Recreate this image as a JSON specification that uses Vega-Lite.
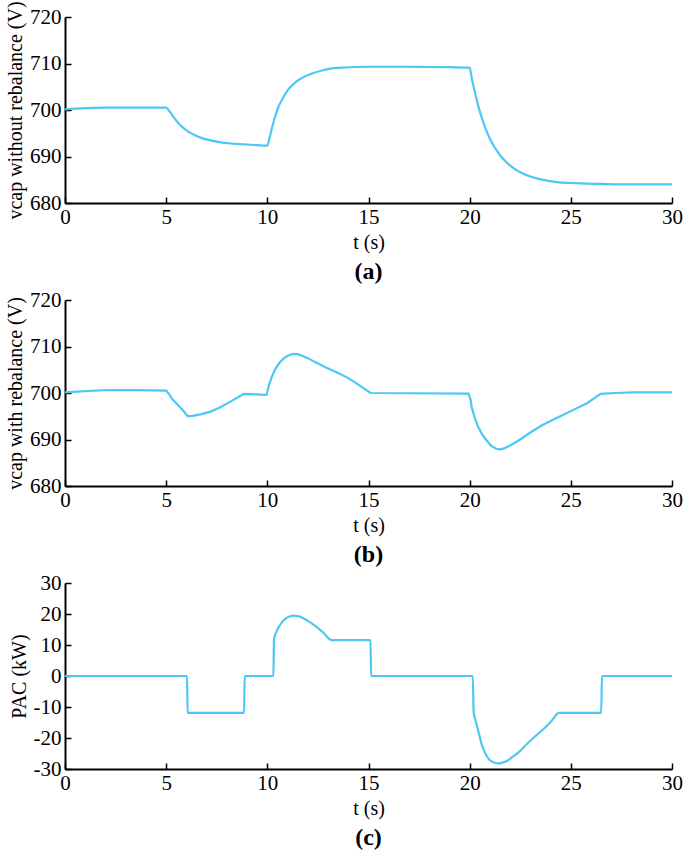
{
  "$schema": "https://vega.github.io/schema/vega-lite/v6.json",
  "background": "white",
  "padding": {"left": 5, "top": 0, "right": 0, "bottom": 0},
  "datasets": {
    "a": [
      {"t": 0, "v": 700.15}, {"t": 1, "v": 700.4}, {"t": 2, "v": 700.5}, {"t": 3, "v": 700.5}, {"t": 4, "v": 700.5}, {"t": 5, "v": 700.5},
      {"t": 5.15, "v": 699.8}, {"t": 5.3, "v": 698.9}, {"t": 5.6, "v": 697.2}, {"t": 6.0, "v": 695.6}, {"t": 6.4, "v": 694.6}, {"t": 6.8, "v": 693.9},
      {"t": 7.25, "v": 693.4}, {"t": 7.7, "v": 693.05}, {"t": 8.1, "v": 692.85}, {"t": 8.5, "v": 692.7}, {"t": 8.9, "v": 692.6},
      {"t": 9.5, "v": 692.45}, {"t": 10, "v": 692.35}, {"t": 10.1, "v": 693.8}, {"t": 10.25, "v": 696.5}, {"t": 10.4, "v": 698.8},
      {"t": 10.55, "v": 700.7}, {"t": 10.75, "v": 702.4}, {"t": 11.0, "v": 704.2}, {"t": 11.4, "v": 706.0}, {"t": 11.8, "v": 707.1},
      {"t": 12.25, "v": 707.9}, {"t": 12.7, "v": 708.5}, {"t": 13.1, "v": 708.9}, {"t": 13.7, "v": 709.1}, {"t": 14.25, "v": 709.25},
      {"t": 15, "v": 709.3}, {"t": 16, "v": 709.3}, {"t": 17, "v": 709.3}, {"t": 18, "v": 709.25}, {"t": 19, "v": 709.2},
      {"t": 20, "v": 709.1}, {"t": 20.1, "v": 706.9}, {"t": 20.25, "v": 704.0}, {"t": 20.4, "v": 701.3}, {"t": 20.55, "v": 699.0},
      {"t": 20.7, "v": 697.0}, {"t": 20.85, "v": 695.3}, {"t": 21.0, "v": 693.8}, {"t": 21.2, "v": 692.2}, {"t": 21.4, "v": 690.9},
      {"t": 21.65, "v": 689.5}, {"t": 21.9, "v": 688.4}, {"t": 22.2, "v": 687.4}, {"t": 22.6, "v": 686.4}, {"t": 23.0, "v": 685.7},
      {"t": 23.4, "v": 685.2}, {"t": 23.9, "v": 684.75}, {"t": 24.4, "v": 684.45}, {"t": 25.0, "v": 684.3}, {"t": 25.5, "v": 684.2},
      {"t": 26.5, "v": 684.1}, {"t": 28, "v": 684.0}, {"t": 30, "v": 684.0}
    ],
    "b": [
      {"t": 0, "v": 700.15}, {"t": 1, "v": 700.4}, {"t": 2.2, "v": 700.65}, {"t": 3.5, "v": 700.6}, {"t": 5, "v": 700.5},
      {"t": 5.15, "v": 699.7}, {"t": 5.3, "v": 698.7}, {"t": 5.5, "v": 697.8}, {"t": 5.7, "v": 696.9}, {"t": 5.9, "v": 695.9},
      {"t": 6.06, "v": 695.05}, {"t": 6.3, "v": 695.1}, {"t": 6.7, "v": 695.4}, {"t": 7.2, "v": 696.0}, {"t": 7.65, "v": 696.9},
      {"t": 8.2, "v": 698.2}, {"t": 8.83, "v": 699.8}, {"t": 9.4, "v": 699.7}, {"t": 9.96, "v": 699.6}, {"t": 10.1, "v": 702.0},
      {"t": 10.25, "v": 703.8}, {"t": 10.4, "v": 705.2}, {"t": 10.6, "v": 706.5}, {"t": 10.8, "v": 707.4}, {"t": 11.0, "v": 708.0},
      {"t": 11.27, "v": 708.4}, {"t": 11.5, "v": 708.35}, {"t": 11.66, "v": 708.1}, {"t": 12.0, "v": 707.5}, {"t": 12.34, "v": 706.7},
      {"t": 12.9, "v": 705.5}, {"t": 13.5, "v": 704.3}, {"t": 14.0, "v": 703.2}, {"t": 14.3, "v": 702.4}, {"t": 14.7, "v": 701.2},
      {"t": 15.1, "v": 700.0}, {"t": 17, "v": 699.95}, {"t": 19.94, "v": 699.85}, {"t": 20.05, "v": 698.5}, {"t": 20.1, "v": 696.9},
      {"t": 20.25, "v": 694.7}, {"t": 20.4, "v": 692.9}, {"t": 20.6, "v": 691.2}, {"t": 20.8, "v": 690.0}, {"t": 21.05, "v": 688.7},
      {"t": 21.3, "v": 688.0}, {"t": 21.5, "v": 687.9}, {"t": 21.7, "v": 688.1}, {"t": 22.0, "v": 688.7}, {"t": 22.5, "v": 690.0},
      {"t": 23.0, "v": 691.5}, {"t": 23.6, "v": 693.1}, {"t": 24.3, "v": 694.6}, {"t": 25.0, "v": 696.1}, {"t": 25.8, "v": 697.8},
      {"t": 26.47, "v": 699.8}, {"t": 27.2, "v": 700.0}, {"t": 28.1, "v": 700.15}, {"t": 30, "v": 700.15}
    ],
    "c": [
      {"t": 0, "v": 0}, {"t": 6.03, "v": 0}, {"t": 6.06, "v": -11.9}, {"t": 8.85, "v": -11.9}, {"t": 8.88, "v": 0},
      {"t": 10.3, "v": 0}, {"t": 10.33, "v": 11.9}, {"t": 10.43, "v": 14.0}, {"t": 10.57, "v": 15.9}, {"t": 10.72, "v": 17.3},
      {"t": 10.85, "v": 18.2}, {"t": 11.0, "v": 18.9}, {"t": 11.3, "v": 19.5}, {"t": 11.5, "v": 19.3}, {"t": 11.7, "v": 18.9},
      {"t": 12.0, "v": 17.8}, {"t": 12.3, "v": 16.5}, {"t": 12.75, "v": 14.1}, {"t": 13.17, "v": 11.6}, {"t": 15.1, "v": 11.6},
      {"t": 15.13, "v": 0}, {"t": 20.15, "v": 0}, {"t": 20.2, "v": -11.9}, {"t": 20.3, "v": -14.5}, {"t": 20.4, "v": -17.1},
      {"t": 20.5, "v": -19.7}, {"t": 20.6, "v": -22.2}, {"t": 20.75, "v": -24.6}, {"t": 20.9, "v": -26.4}, {"t": 21.05, "v": -27.4},
      {"t": 21.2, "v": -27.9}, {"t": 21.43, "v": -28.2}, {"t": 21.6, "v": -28.0}, {"t": 21.78, "v": -27.6}, {"t": 22.1, "v": -26.2},
      {"t": 22.47, "v": -24.3}, {"t": 22.85, "v": -21.8}, {"t": 23.25, "v": -19.4}, {"t": 23.65, "v": -17.1}, {"t": 24.03, "v": -14.6},
      {"t": 24.42, "v": -11.9}, {"t": 26.5, "v": -11.9}, {"t": 26.54, "v": 0}, {"t": 30, "v": 0}
    ]
  },
  "config": {
    "font": "Liberation Serif",
    "view": {"stroke": null},
    "concat": {"spacing": 5},
    "axis": {
      "grid": false,
      "domainColor": "black",
      "domainWidth": 2,
      "tickColor": "black",
      "tickWidth": 1.5,
      "tickSize": -6,
      "labelFont": "Liberation Serif",
      "labelFontSize": 21,
      "labelColor": "black",
      "labelPadding": 10,
      "titleFont": "Liberation Serif",
      "titleFontSize": 20,
      "titleFontWeight": "normal",
      "titleColor": "black"
    },
    "axisX": {"titlePadding": 5, "labelPadding": 9},
    "axisY": {"titlePadding": 4},
    "title": {"font": "Liberation Serif", "fontSize": 24, "fontWeight": "bold", "color": "black", "orient": "bottom", "frame": "group", "anchor": "middle", "offset": 8},
    "line": {"color": "#4cc8f4", "strokeWidth": 2.2, "interpolate": "monotone"}
  },
  "vconcat": [
    {
      "width": 607, "height": 186,
      "title": {"text": "(a)", "orient": "bottom"},
      "data": {"name": "a"},
      "mark": {"type": "line"},
      "encoding": {
        "x": {"field": "t", "type": "quantitative", "scale": {"domain": [0, 30], "nice": false}, "axis": {"values": [0, 5, 10, 15, 20, 25, 30], "title": "t (s)", "labelFlush": false}},
        "y": {"field": "v", "type": "quantitative", "scale": {"domain": [680, 720], "nice": false, "zero": false}, "axis": {"values": [680, 690, 700, 710, 720], "title": "vcap without rebalance (V)"}}
      }
    },
    {
      "width": 607, "height": 186,
      "title": {"text": "(b)", "orient": "bottom"},
      "data": {"name": "b"},
      "mark": {"type": "line", "interpolate": "linear"},
      "encoding": {
        "x": {"field": "t", "type": "quantitative", "scale": {"domain": [0, 30], "nice": false}, "axis": {"values": [0, 5, 10, 15, 20, 25, 30], "title": "t (s)", "labelFlush": false}},
        "y": {"field": "v", "type": "quantitative", "scale": {"domain": [680, 720], "nice": false, "zero": false}, "axis": {"values": [680, 690, 700, 710, 720], "title": "vcap with rebalance (V)"}}
      }
    },
    {
      "width": 607, "height": 186,
      "title": {"text": "(c)", "orient": "bottom"},
      "data": {"name": "c"},
      "mark": {"type": "line"},
      "encoding": {
        "x": {"field": "t", "type": "quantitative", "scale": {"domain": [0, 30], "nice": false}, "axis": {"values": [0, 5, 10, 15, 20, 25, 30], "title": "t (s)", "labelFlush": false}},
        "y": {"field": "v", "type": "quantitative", "scale": {"domain": [-30, 30], "nice": false}, "axis": {"values": [-30, -20, -10, 0, 10, 20, 30], "title": "PAC (kW)", "labelExpr": "datum.value < 0 ? '-' + abs(datum.value) : '' + datum.value"}}
      }
    }
  ]
}
